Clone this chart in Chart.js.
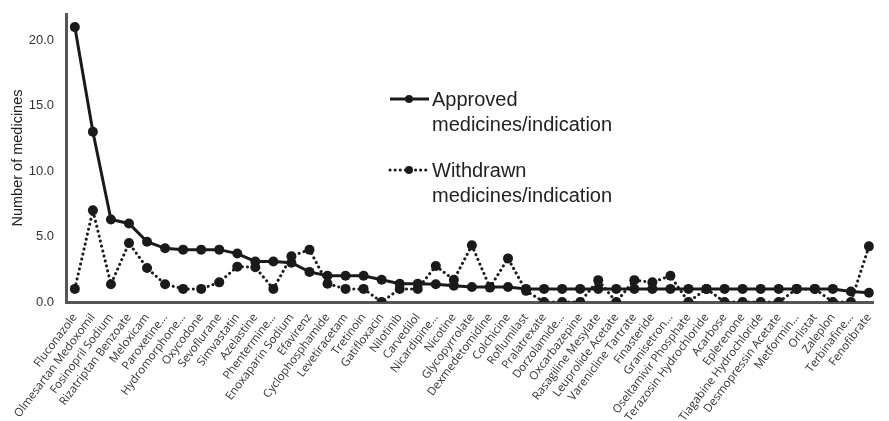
<!DOCTYPE html>
<html>
<head>
<meta charset="utf-8">
<script src="https://cdn.jsdelivr.net/npm/chart.js@4/dist/chart.umd.min.js"></script>
<style>
  html, body { margin: 0; padding: 0; background: #ffffff; }
  #wrap { position: relative; width: 889px; height: 421px; }
</style>
</head>
<body>
<div id="wrap"><canvas id="chart" width="889" height="421"></canvas></div>
<script>
// Medicines, in order of approved medicines per indication
const medicines = [
  'Fluconazole', 'Olmesartan Medoxomil', 'Fosinopril Sodium', 'Rizatriptan Benzoate',
  'Meloxicam', 'Paroxetine…', 'Hydromorphone…', 'Oxycodone', 'Sevoflurane',
  'Simvastatin', 'Azelastine', 'Phentermine…', 'Enoxaparin Sodium', 'Efavirenz',
  'Cyclophosphamide', 'Levetiracetam', 'Tretinoin', 'Gatifloxacin', 'Nilotinib',
  'Carvedilol', 'Nicardipine…', 'Nicotine', 'Glycopyrrolate', 'Dexmedetomidine',
  'Colchicine', 'Roflumilast', 'Pralatrexate', 'Dorzolamide…', 'Oxcarbazepine',
  'Rasagiline Mesylate', 'Leuprolide Acetate', 'Varenicline Tartrate', 'Finasteride',
  'Granisetron…', 'Oseltamivir Phosphate', 'Terazosin Hydrochloride', 'Acarbose',
  'Eplerenone', 'Tiagabine Hydrochloride', 'Desmopressin Acetate', 'Metformin…',
  'Orlistat', 'Zaleplon', 'Terbinafine…', 'Fenofibrate'
];

const approved = [
  21, 13, 6.3, 6.0, 4.6, 4.1, 4.0, 4.0, 4.0, 3.7, 3.1, 3.1, 3.0, 2.3, 2.0,
  2.0, 2.0, 1.7, 1.4, 1.4, 1.35, 1.25, 1.15, 1.15, 1.15, 1.0, 1.0, 1.0, 1.0, 1.0,
  1.0, 1.0, 1.0, 1.0, 1.0, 1.0, 1.0, 1.0, 1.0, 1.0, 1.0, 1.0, 1.0, 0.8, 0.7
];

const withdrawn = [
  1.0, 7.0, 1.35, 4.5, 2.6, 1.35, 1.0, 1.0, 1.5, 2.7, 2.65, 1.0, 3.5, 4.0, 1.4,
  1.0, 1.0, 0, 1.0, 1.0, 2.75, 1.7, 4.33, 1.1, 3.33, 0.85, 0, 0, 0, 1.67,
  0, 1.67, 1.5, 2.0, 0, 1.0, 0, 0, 0, 0, 1.0, 1.0, 0, 0, 4.25
];

const yTicks = [0, 5, 10, 15, 20];

const seriesLabels = {
  approved: ['Approved', 'medicines/indication'],
  withdrawn: ['Withdrawn', 'medicines/indication']
};

const INK = '#1a1a1a';
const toPoints = arr => arr.map((v, i) => ({ x: i, y: v }));

// Two-line legend drawn beside the curves
const sideLegend = {
  id: 'sideLegend',
  afterDraw(chart) {
    const ctx = chart.ctx;
    const rows = [
      { y: 99, ds: chart.data.datasets[0] },
      { y: 170, ds: chart.data.datasets[1] }
    ];
    ctx.save();
    rows.forEach(row => {
      const ds = row.ds;
      ctx.beginPath();
      ctx.setLineDash(ds.borderDash || []);
      ctx.lineCap = ds.borderCapStyle || 'butt';
      ctx.lineWidth = ds.borderWidth;
      ctx.strokeStyle = ds.borderColor;
      ctx.moveTo(390, row.y);
      ctx.lineTo(429, row.y);
      ctx.stroke();
      ctx.setLineDash([]);
      ctx.beginPath();
      ctx.arc(409, row.y, 4, 0, Math.PI * 2);
      ctx.fillStyle = ds.pointBackgroundColor;
      ctx.fill();
      ctx.fillStyle = '#222';
      ctx.font = '20px "Liberation Sans", Arial, sans-serif';
      ctx.textAlign = 'left';
      ctx.textBaseline = 'alphabetic';
      ds.label.forEach((line, k) => {
        ctx.fillText(line, 432, row.y + 7 + k * 24.5);
      });
    });
    ctx.restore();
  }
};

new Chart(document.getElementById('chart'), {
  type: 'line',
  data: {
    datasets: [
      {
        label: seriesLabels.approved,
        data: toPoints(approved),
        borderColor: INK,
        borderWidth: 3,
        pointRadius: 5,
        pointBackgroundColor: INK,
        pointBorderWidth: 0,
        tension: 0
      },
      {
        label: seriesLabels.withdrawn,
        data: toPoints(withdrawn),
        borderColor: INK,
        borderWidth: 3,
        borderDash: [0.1, 5],
        borderCapStyle: 'round',
        pointRadius: 5,
        pointBackgroundColor: INK,
        pointBorderWidth: 0,
        tension: 0
      }
    ]
  },
  options: {
    responsive: false,
    animation: false,
    devicePixelRatio: 1,
    layout: { padding: { top: 14, right: 0, left: 0, bottom: 0 } },
    plugins: {
      legend: { display: false },
      tooltip: { enabled: false }
    },
    scales: {
      x: {
        type: 'linear',
        min: -0.49,
        max: 44.27,
        grid: { display: false, drawTicks: false },
        border: { display: true, color: '#555', width: 3 },
        afterBuildTicks: scale => {
          scale.ticks = medicines.map((_, i) => ({ value: i }));
        },
        afterFit: scale => { scale.height = 119; },
        ticks: {
          autoSkip: false,
          minRotation: 53,
          maxRotation: 53,
          padding: 9,
          color: '#333',
          font: { family: '"Open Sans", sans-serif', size: 11.5 },
          callback: v => medicines[v]
        }
      },
      y: {
        min: 0,
        max: 22,
        grid: { display: false, drawTicks: false },
        border: { display: true, color: '#555', width: 3 },
        afterBuildTicks: scale => {
          scale.ticks = yTicks.map(v => ({ value: v }));
        },
        afterFit: scale => {
          scale.width = 66;
          scale.paddingTop = 0;
          scale.paddingBottom = 0;
        },
        ticks: {
          padding: 12,
          color: '#333',
          font: { family: '"Liberation Sans", Arial, sans-serif', size: 13 },
          callback: v => v.toFixed(1)
        },
        title: {
          display: true,
          text: 'Number of medicines',
          color: '#222',
          padding: { top: 9, bottom: 0 },
          font: { family: '"Liberation Sans", Arial, sans-serif', size: 14.5 }
        }
      }
    }
  },
  plugins: [sideLegend]
});
</script>
</body>
</html>
